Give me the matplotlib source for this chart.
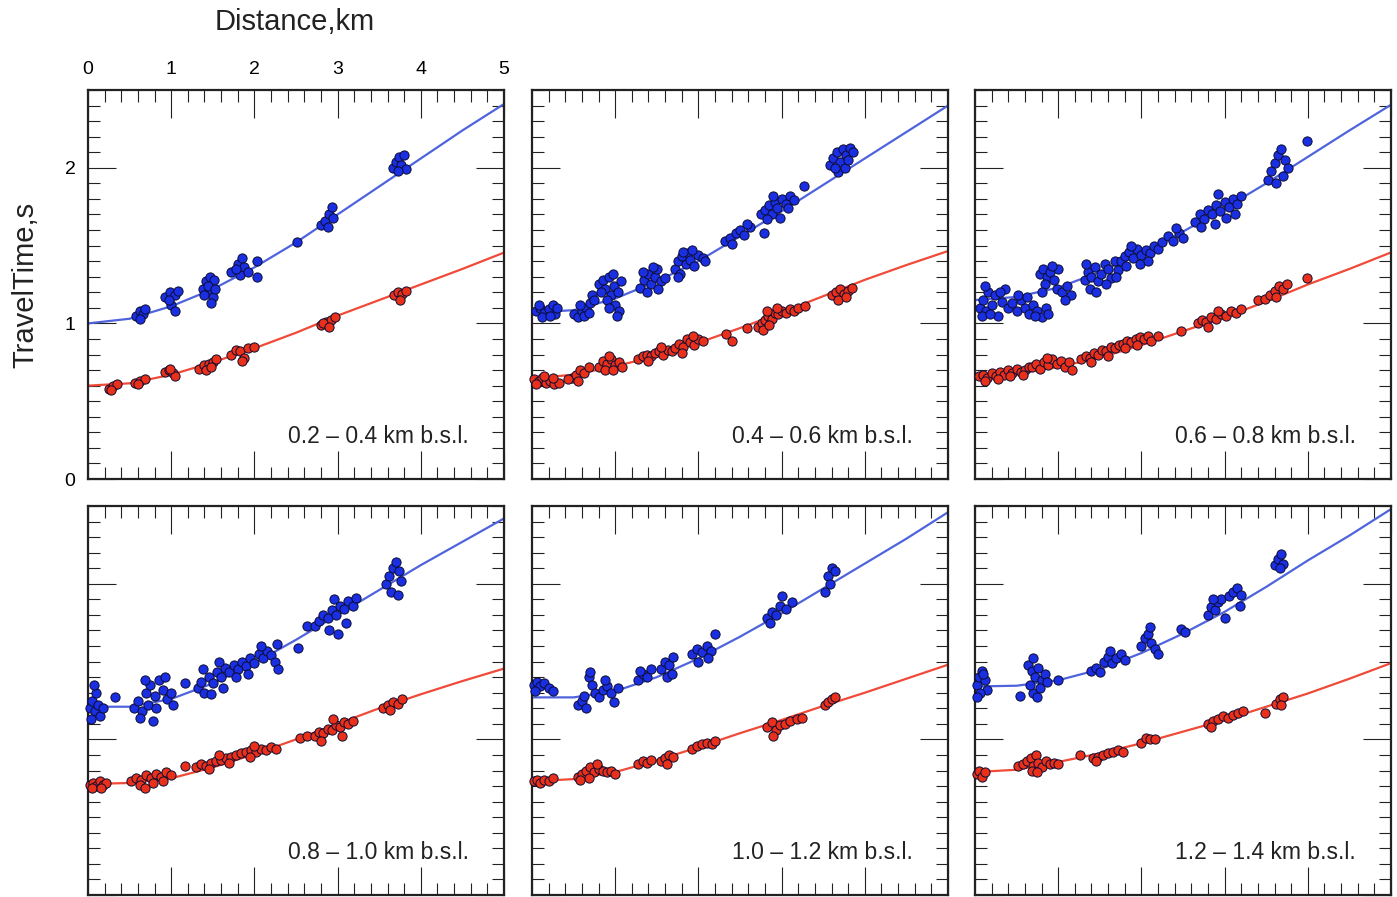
import matplotlib
matplotlib.use("Agg")
import matplotlib.pyplot as plt
from matplotlib.ticker import MultipleLocator

plt.rcParams['font.family'] = ['Liberation Sans', 'DejaVu Sans']

# ---------------------------------------------------------------- data
depth_labels = ["0.2 – 0.4 km b.s.l.", "0.4 – 0.6 km b.s.l.", "0.6 – 0.8 km b.s.l.",
                "0.8 – 1.0 km b.s.l.", "1.0 – 1.2 km b.s.l.", "1.2 – 1.4 km b.s.l."]

# model travel-time curves, sampled every 0.5 km
curve_dist = [0.0, 0.5, 1.0, 1.5, 2.0, 2.5, 3.0, 3.5, 4.0, 4.5, 5.0]

s_curve_1 = [1.00, 1.03, 1.11, 1.22, 1.36, 1.52, 1.70, 1.88, 2.06, 2.24, 2.41]
p_curve_1 = [0.60, 0.615, 0.67, 0.75, 0.84, 0.94, 1.05, 1.15, 1.25, 1.35, 1.455]
s_curve_2 = [1.07, 1.085, 1.16, 1.27, 1.40, 1.56, 1.72, 1.89, 2.06, 2.23, 2.40]
p_curve_2 = [0.647, 0.67, 0.725, 0.79, 0.875, 0.97, 1.07, 1.175, 1.28, 1.375, 1.465]
s_curve_3 = [1.15, 1.17, 1.23, 1.33, 1.45, 1.59, 1.74, 1.90, 2.07, 2.24, 2.405]
p_curve_3 = [0.66, 0.68, 0.72, 0.78, 0.86, 0.95, 1.04, 1.14, 1.25, 1.35, 1.456]
s_curve_4 = [1.21, 1.21, 1.26, 1.36, 1.49, 1.64, 1.80, 1.96, 2.12, 2.27, 2.42]
p_curve_4 = [0.713, 0.72, 0.75, 0.82, 0.905, 1.00, 1.10, 1.20, 1.29, 1.375, 1.455]
s_curve_5 = [1.27, 1.27, 1.31, 1.40, 1.52, 1.66, 1.81, 1.97, 2.13, 2.29, 2.46]
p_curve_5 = [0.73, 0.745, 0.79, 0.865, 0.95, 1.04, 1.125, 1.215, 1.30, 1.39, 1.48]
s_curve_6 = [1.34, 1.345, 1.38, 1.45, 1.555, 1.68, 1.82, 1.98, 2.15, 2.31, 2.48]
p_curve_6 = [0.79, 0.805, 0.855, 0.91, 0.975, 1.05, 1.125, 1.21, 1.295, 1.39, 1.49]

# observed picks: (distance km, travel time s)
s_picks_1 = [(0.58, 1.05), (0.62, 1.08), (0.66, 1.06), (0.62, 1.03), (0.68, 1.09),
             (0.93, 1.17), (0.98, 1.20), (1.05, 1.18), (1.08, 1.21), (1.00, 1.12), (1.04, 1.08), (0.97, 1.15),
             (1.38, 1.22), (1.42, 1.27), (1.47, 1.30), (1.52, 1.28), (1.45, 1.20), (1.50, 1.17),
             (1.44, 1.24), (1.53, 1.22), (1.48, 1.13), (1.40, 1.18),
             (1.72, 1.33), (1.80, 1.38), (1.85, 1.42), (1.88, 1.36), (1.83, 1.31), (1.92, 1.33),
             (2.03, 1.40), (2.03, 1.30), (1.78, 1.35),
             (2.51, 1.52),
             (2.80, 1.63), (2.85, 1.66), (2.90, 1.70), (2.93, 1.75), (2.88, 1.62), (2.95, 1.68),
             (3.66, 2.00), (3.70, 2.04), (3.74, 2.07), (3.80, 2.08), (3.76, 2.02), (3.82, 1.99), (3.72, 1.98)]
p_picks_1 = [(0.25, 0.58), (0.30, 0.60), (0.35, 0.61), (0.28, 0.57),
             (0.56, 0.62), (0.62, 0.63), (0.68, 0.64), (0.60, 0.61),
             (0.92, 0.69), (0.97, 0.70), (1.02, 0.68), (1.05, 0.66), (0.99, 0.71),
             (1.33, 0.71), (1.40, 0.73), (1.45, 0.74), (1.50, 0.75), (1.54, 0.77), (1.42, 0.70), (1.48, 0.72),
             (1.72, 0.80), (1.78, 0.83), (1.83, 0.82), (1.87, 0.78), (1.92, 0.84), (2.00, 0.85), (1.85, 0.76),
             (2.80, 0.99), (2.86, 1.01), (2.92, 1.02), (2.97, 1.04), (2.83, 1.00), (2.90, 0.98),
             (3.68, 1.18), (3.72, 1.20), (3.78, 1.19), (3.75, 1.15), (3.82, 1.21)]

s_picks_2 = [(0.05, 1.08), (0.10, 1.10), (0.15, 1.07), (0.20, 1.09), (0.25, 1.12), (0.28, 1.06),
             (0.12, 1.04), (0.22, 1.05), (0.30, 1.10), (0.08, 1.12),
             (0.50, 1.06), (0.55, 1.04), (0.60, 1.08), (0.65, 1.10), (0.70, 1.13), (0.72, 1.18),
             (0.62, 1.05), (0.68, 1.07), (0.58, 1.12), (0.75, 1.15),
             (0.80, 1.25), (0.85, 1.28), (0.88, 1.22), (0.92, 1.30), (0.95, 1.18), (0.98, 1.24),
             (1.00, 1.12), (1.03, 1.20), (1.05, 1.08), (0.90, 1.15), (0.83, 1.20), (1.07, 1.27),
             (0.97, 1.32), (0.93, 1.10), (1.02, 1.05),
             (1.30, 1.23), (1.35, 1.28), (1.40, 1.32), (1.43, 1.25), (1.48, 1.30), (1.50, 1.35),
             (1.55, 1.27), (1.60, 1.29), (1.38, 1.20), (1.45, 1.36), (1.52, 1.22), (1.33, 1.33),
             (1.72, 1.35), (1.75, 1.40), (1.80, 1.43), (1.85, 1.38), (1.88, 1.45), (1.90, 1.41),
             (1.95, 1.37), (2.00, 1.44), (2.05, 1.42), (1.78, 1.32), (1.92, 1.47), (1.82, 1.46),
             (2.08, 1.40), (1.76, 1.30),
             (2.32, 1.53), (2.38, 1.55), (2.45, 1.58), (2.50, 1.60), (2.55, 1.57), (2.62, 1.62),
             (2.40, 1.51), (2.58, 1.64),
             (2.79, 1.58),
             (2.75, 1.70), (2.80, 1.73), (2.85, 1.76), (2.88, 1.70), (2.92, 1.78), (2.95, 1.74),
             (3.00, 1.80), (3.05, 1.77), (3.10, 1.82), (3.15, 1.79), (2.82, 1.67), (2.98, 1.68),
             (3.08, 1.74), (2.90, 1.82),
             (3.27, 1.88),
             (3.58, 2.02), (3.62, 2.06), (3.66, 2.10), (3.70, 2.04), (3.74, 2.12), (3.78, 2.08),
             (3.82, 2.13), (3.86, 2.10), (3.68, 1.97), (3.76, 2.00), (3.80, 2.05), (3.64, 2.00)]
p_picks_2 = [(0.03, 0.64), (0.08, 0.63), (0.12, 0.65), (0.17, 0.62), (0.22, 0.63), (0.27, 0.61),
             (0.32, 0.62), (0.05, 0.61), (0.15, 0.66), (0.25, 0.65),
             (0.48, 0.65), (0.53, 0.67), (0.58, 0.70), (0.63, 0.68), (0.68, 0.72), (0.55, 0.63), (0.43, 0.64),
             (0.80, 0.72), (0.85, 0.76), (0.90, 0.74), (0.95, 0.77), (1.00, 0.73), (1.05, 0.75),
             (0.88, 0.70), (0.97, 0.70), (1.08, 0.72), (0.92, 0.79),
             (1.28, 0.77), (1.33, 0.79), (1.38, 0.80), (1.43, 0.79), (1.48, 0.81), (1.53, 0.82),
             (1.58, 0.80), (1.63, 0.83), (1.68, 0.82), (1.40, 0.76), (1.55, 0.85),
             (1.72, 0.84), (1.77, 0.87), (1.82, 0.85), (1.86, 0.90), (1.90, 0.88), (1.95, 0.86),
             (2.00, 0.90), (2.05, 0.89), (1.80, 0.81), (1.93, 0.92),
             (2.33, 0.93), (2.40, 0.89), (2.59, 0.97),
             (2.72, 0.98), (2.76, 1.00), (2.80, 1.02), (2.84, 1.05), (2.88, 1.03), (2.92, 1.07),
             (2.96, 1.06), (3.00, 1.08), (3.05, 1.07), (3.10, 1.09), (3.15, 1.08), (3.20, 1.10),
             (3.28, 1.11), (2.78, 0.96), (2.85, 0.99), (2.95, 1.10), (2.82, 1.08),
             (3.60, 1.18), (3.65, 1.20), (3.70, 1.22), (3.75, 1.19), (3.80, 1.21), (3.85, 1.23),
             (3.68, 1.15), (3.78, 1.17)]

s_picks_3 = [(0.06, 1.10), (0.10, 1.15), (0.13, 1.08), (0.16, 1.20), (0.20, 1.12), (0.24, 1.18),
             (0.28, 1.05), (0.32, 1.14), (0.36, 1.22), (0.40, 1.10), (0.08, 1.05), (0.18, 1.06),
             (0.30, 1.20), (0.12, 1.24),
             (0.45, 1.13), (0.50, 1.08), (0.55, 1.15), (0.60, 1.10), (0.65, 1.06), (0.70, 1.12),
             (0.75, 1.08), (0.80, 1.04), (0.85, 1.10), (0.52, 1.18), (0.62, 1.17), (0.72, 1.05), (0.88, 1.06),
             (0.78, 1.32), (0.82, 1.35), (0.86, 1.30), (0.90, 1.33), (0.95, 1.28), (1.00, 1.35),
             (0.84, 1.25), (0.93, 1.37), (0.98, 1.22), (0.80, 1.20),
             (1.05, 1.20), (1.10, 1.24), (1.15, 1.18), (1.08, 1.15),
             (1.32, 1.28), (1.36, 1.33), (1.40, 1.30), (1.44, 1.36), (1.48, 1.27), (1.52, 1.32),
             (1.56, 1.38), (1.60, 1.35), (1.64, 1.29), (1.68, 1.40), (1.72, 1.34), (1.38, 1.22),
             (1.46, 1.20), (1.58, 1.25), (1.70, 1.30), (1.34, 1.38),
             (1.76, 1.40), (1.80, 1.43), (1.85, 1.46), (1.90, 1.42), (1.95, 1.48), (2.00, 1.44),
             (2.05, 1.47), (2.10, 1.45), (2.15, 1.50), (2.20, 1.48), (1.82, 1.37), (1.98, 1.38),
             (2.08, 1.40), (1.88, 1.50),
             (2.25, 1.52), (2.32, 1.56), (2.38, 1.53), (2.45, 1.58), (2.50, 1.55), (2.42, 1.61),
             (2.65, 1.65), (2.70, 1.70), (2.75, 1.67), (2.80, 1.73), (2.85, 1.70), (2.90, 1.76),
             (2.95, 1.72), (3.00, 1.78), (3.05, 1.75), (3.10, 1.80), (3.15, 1.77), (3.20, 1.82),
             (2.72, 1.62), (2.88, 1.64), (3.02, 1.68), (2.92, 1.83), (3.12, 1.70),
             (3.52, 1.92), (3.56, 1.98), (3.60, 2.03), (3.64, 2.08), (3.68, 2.12), (3.72, 2.05),
             (3.76, 2.00), (3.62, 1.90), (3.70, 1.95),
             (3.99, 2.17)]
p_picks_3 = [(0.05, 0.66), (0.10, 0.67), (0.15, 0.65), (0.20, 0.68), (0.25, 0.66), (0.30, 0.69),
             (0.35, 0.67), (0.40, 0.70), (0.45, 0.68), (0.50, 0.71), (0.55, 0.69), (0.60, 0.70),
             (0.65, 0.72), (0.12, 0.63), (0.28, 0.64), (0.42, 0.66), (0.58, 0.67),
             (0.68, 0.72), (0.73, 0.74), (0.78, 0.71), (0.83, 0.75), (0.88, 0.73), (0.93, 0.77),
             (0.98, 0.74), (1.03, 0.76), (1.08, 0.72), (1.13, 0.75), (1.17, 0.70), (0.86, 0.78),
             (1.28, 0.77), (1.33, 0.79), (1.38, 0.78), (1.43, 0.81), (1.48, 0.80), (1.53, 0.83),
             (1.58, 0.82), (1.63, 0.85), (1.68, 0.84), (1.73, 0.86), (1.78, 0.87), (1.83, 0.89),
             (1.88, 0.88), (1.93, 0.90), (1.98, 0.91), (2.03, 0.90), (2.08, 0.92), (1.40, 0.75),
             (1.60, 0.79), (1.80, 0.84), (1.95, 0.86), (2.12, 0.89),
             (2.20, 0.92), (2.48, 0.95),
             (2.68, 1.00), (2.73, 1.02), (2.78, 1.01), (2.84, 1.04), (2.90, 1.03), (2.96, 1.06),
             (3.02, 1.05), (3.08, 1.08), (3.14, 1.07), (3.20, 1.09), (2.80, 0.98), (2.92, 1.08),
             (3.40, 1.15), (3.48, 1.16),
             (3.55, 1.18), (3.60, 1.21), (3.65, 1.24), (3.70, 1.22), (3.75, 1.25), (3.62, 1.17),
             (3.99, 1.29)]

s_picks_4 = [(0.02, 1.20), (0.05, 1.25), (0.08, 1.18), (0.10, 1.30), (0.12, 1.22), (0.15, 1.15),
             (0.04, 1.13), (0.18, 1.20), (0.07, 1.35),
             (0.32, 1.27),
             (0.55, 1.20), (0.60, 1.25), (0.65, 1.18), (0.70, 1.30), (0.75, 1.35), (0.80, 1.28),
             (0.85, 1.38), (0.90, 1.32), (0.95, 1.26), (1.00, 1.30), (0.62, 1.14), (0.72, 1.22),
             (0.82, 1.20), (0.92, 1.40), (0.68, 1.38), (0.78, 1.12), (1.02, 1.22),
             (1.16, 1.36),
             (1.32, 1.33), (1.36, 1.37), (1.40, 1.30), (1.45, 1.40), (1.50, 1.36), (1.55, 1.43),
             (1.60, 1.40), (1.65, 1.46), (1.70, 1.43), (1.75, 1.48), (1.80, 1.45), (1.85, 1.50),
             (1.90, 1.47), (1.95, 1.52), (2.00, 1.49), (2.05, 1.55), (2.10, 1.52), (2.15, 1.57),
             (2.20, 1.54), (2.25, 1.50), (1.38, 1.45), (1.48, 1.29), (1.62, 1.33), (1.78, 1.40),
             (1.92, 1.42), (2.08, 1.60), (2.28, 1.45), (1.58, 1.50),
             (2.27, 1.61), (2.53, 1.59), (2.63, 1.73),
             (2.73, 1.73), (2.78, 1.76), (2.83, 1.80), (2.88, 1.78), (2.93, 1.83), (2.98, 1.80),
             (3.03, 1.86), (3.08, 1.84), (3.13, 1.89), (3.18, 1.86), (3.22, 1.91), (2.90, 1.70),
             (3.00, 1.68), (2.96, 1.90), (3.10, 1.75),
             (3.58, 2.00), (3.62, 2.05), (3.66, 2.10), (3.70, 2.14), (3.74, 2.08), (3.64, 1.95),
             (3.72, 1.93), (3.76, 2.02)]
p_picks_4 = [(0.02, 0.71), (0.06, 0.72), (0.10, 0.70), (0.14, 0.73), (0.18, 0.71), (0.22, 0.72),
             (0.05, 0.69), (0.16, 0.69),
             (0.52, 0.73), (0.58, 0.75), (0.64, 0.74), (0.70, 0.77), (0.76, 0.75), (0.82, 0.78),
             (0.88, 0.76), (0.94, 0.79), (1.00, 0.77), (0.62, 0.71), (0.78, 0.72), (0.68, 0.69), (0.90, 0.73),
             (1.16, 0.83),
             (1.30, 0.82), (1.36, 0.84), (1.42, 0.83), (1.48, 0.85), (1.54, 0.86), (1.60, 0.87),
             (1.66, 0.88), (1.72, 0.89), (1.78, 0.90), (1.84, 0.91), (1.90, 0.92), (1.96, 0.93),
             (2.02, 0.92), (2.08, 0.94), (2.14, 0.93), (2.20, 0.95), (2.26, 0.94), (1.45, 0.81),
             (1.70, 0.85), (1.95, 0.89), (1.58, 0.90), (2.00, 0.96),
             (2.55, 1.01), (2.63, 1.02),
             (2.73, 1.02), (2.78, 1.05), (2.83, 1.04), (2.88, 1.07), (2.93, 1.06), (2.98, 1.09),
             (3.03, 1.08), (3.08, 1.11), (3.13, 1.10), (3.18, 1.12), (2.80, 0.99), (2.95, 1.13), (3.05, 1.02),
             (3.55, 1.20), (3.60, 1.22), (3.66, 1.24), (3.72, 1.23), (3.78, 1.26), (3.63, 1.19)]

s_picks_5 = [(0.02, 1.35), (0.06, 1.37), (0.10, 1.34), (0.15, 1.36), (0.20, 1.33), (0.25, 1.31), (0.04, 1.31),
             (0.55, 1.22), (0.60, 1.25), (0.65, 1.20), (0.68, 1.40), (0.72, 1.35), (0.76, 1.30),
             (0.80, 1.27), (0.85, 1.32), (0.90, 1.34), (0.95, 1.30), (0.98, 1.24), (1.03, 1.33),
             (0.62, 1.28), (0.88, 1.38), (0.70, 1.43),
             (1.28, 1.38), (1.33, 1.42), (1.38, 1.40), (1.43, 1.45), (1.30, 1.44),
             (1.55, 1.45), (1.60, 1.50), (1.65, 1.48), (1.70, 1.53), (1.62, 1.40), (1.68, 1.42),
             (1.92, 1.55), (1.98, 1.58), (2.04, 1.56), (2.10, 1.60), (2.15, 1.57), (2.20, 1.68),
             (2.00, 1.50), (2.12, 1.52),
             (2.83, 1.78), (2.88, 1.82), (2.93, 1.80), (2.98, 1.86), (3.05, 1.84), (3.12, 1.88),
             (3.00, 1.92), (2.86, 1.75),
             (3.52, 1.95), (3.56, 2.05), (3.60, 2.10), (3.64, 2.08), (3.58, 2.00)]
p_picks_5 = [(0.02, 0.73), (0.06, 0.74), (0.10, 0.72), (0.15, 0.74), (0.20, 0.73), (0.25, 0.75),
             (0.55, 0.76), (0.60, 0.78), (0.65, 0.80), (0.70, 0.82), (0.75, 0.79), (0.80, 0.81),
             (0.85, 0.80), (0.90, 0.79), (0.95, 0.80), (1.00, 0.78), (0.68, 0.75), (0.78, 0.84), (0.58, 0.74),
             (1.28, 0.84), (1.33, 0.86), (1.38, 0.85), (1.43, 0.87),
             (1.55, 0.86), (1.60, 0.88), (1.65, 0.90), (1.70, 0.89), (1.62, 0.84),
             (1.92, 0.94), (1.98, 0.96), (2.04, 0.97), (2.10, 0.98), (2.16, 0.97), (2.20, 0.99),
             (2.83, 1.08), (2.88, 1.11), (2.93, 1.06), (2.98, 1.09), (3.04, 1.10), (3.10, 1.12),
             (3.18, 1.13), (3.25, 1.14), (2.90, 1.02),
             (3.52, 1.22), (3.56, 1.24), (3.60, 1.26), (3.64, 1.27)]

s_picks_6 = [(0.02, 1.35), (0.05, 1.40), (0.08, 1.44), (0.12, 1.38), (0.15, 1.32), (0.06, 1.30),
             (0.10, 1.42), (0.03, 1.27),
             (0.54, 1.28),
             (0.64, 1.48), (0.68, 1.44), (0.72, 1.40), (0.76, 1.46), (0.80, 1.38), (0.84, 1.42),
             (0.70, 1.30), (0.74, 1.27), (0.78, 1.33), (0.66, 1.35), (0.86, 1.37), (0.70, 1.52),
             (1.00, 1.38),
             (1.40, 1.44), (1.45, 1.46), (1.50, 1.43), (1.55, 1.50), (1.60, 1.53), (1.65, 1.49),
             (1.70, 1.52), (1.75, 1.55), (1.80, 1.51), (1.62, 1.57),
             (2.00, 1.60), (2.04, 1.65), (2.08, 1.68), (2.12, 1.62), (2.16, 1.58), (2.20, 1.55), (2.10, 1.72),
             (2.47, 1.71), (2.52, 1.69),
             (2.80, 1.80), (2.84, 1.85), (2.88, 1.83), (2.92, 1.88), (2.96, 1.90), (3.05, 1.92),
             (3.10, 1.95), (3.15, 1.97), (3.20, 1.93), (3.00, 1.78), (3.18, 1.86), (2.86, 1.90),
             (3.60, 2.12), (3.64, 2.16), (3.68, 2.19), (3.70, 2.13), (3.66, 2.10)]
p_picks_6 = [(0.02, 0.78), (0.05, 0.80), (0.09, 0.76), (0.12, 0.79),
             (0.52, 0.83), (0.58, 0.84), (0.63, 0.86), (0.67, 0.88), (0.70, 0.83), (0.73, 0.90),
             (0.76, 0.85), (0.80, 0.82), (0.85, 0.86), (0.90, 0.84), (0.95, 0.85), (1.00, 0.84),
             (0.68, 0.80), (0.75, 0.79),
             (1.26, 0.90),
             (1.42, 0.88), (1.48, 0.89), (1.54, 0.90), (1.60, 0.91), (1.66, 0.92), (1.72, 0.93),
             (1.78, 0.92), (1.46, 0.86),
             (2.00, 0.98), (2.05, 1.01), (2.10, 1.00), (2.16, 1.00),
             (2.80, 1.10), (2.86, 1.12), (2.92, 1.13), (2.98, 1.15), (3.04, 1.14), (3.10, 1.16),
             (3.16, 1.17), (3.22, 1.18), (2.84, 1.08),
             (3.49, 1.17),
             (3.62, 1.23), (3.66, 1.26), (3.70, 1.27), (3.68, 1.22)]

s_curves = [s_curve_1, s_curve_2, s_curve_3, s_curve_4, s_curve_5, s_curve_6]
p_curves = [p_curve_1, p_curve_2, p_curve_3, p_curve_4, p_curve_5, p_curve_6]
s_picks = [s_picks_1, s_picks_2, s_picks_3, s_picks_4, s_picks_5, s_picks_6]
p_picks = [p_picks_1, p_picks_2, p_picks_3, p_picks_4, p_picks_5, p_picks_6]

# ---------------------------------------------------------------- styling
S_LINE = '#4f64dc'
P_LINE = '#f04a38'
S_FILL = '#1a2ee2'
P_FILL = '#e8301a'
EDGE = '#0c0c30'

W, H = 1397, 897
fig = plt.figure(figsize=(W / 100, H / 100), dpi=100)

col_left = [88, 532, 975]
row_top = [90, 506]
ax_w, ax_h = 416, 389

for i in range(6):
    r, c = divmod(i, 3)
    left = col_left[c] / W
    bottom = 1 - (row_top[r] + ax_h) / H
    ax = fig.add_axes([left, bottom, ax_w / W, ax_h / H])

    ax.plot(curve_dist, s_curves[i], color=S_LINE, lw=1.6, zorder=2)
    ax.plot(curve_dist, p_curves[i], color=P_LINE, lw=1.6, zorder=2)

    sx, st = zip(*s_picks[i])
    px, pt = zip(*p_picks[i])
    ax.scatter(sx, st, s=44, c=S_FILL, edgecolors=EDGE, linewidths=0.7, zorder=3, clip_on=False)
    ax.scatter(px, pt, s=44, c=P_FILL, edgecolors=EDGE, linewidths=0.7, zorder=3, clip_on=False)

    ax.set_xlim(0, 5)
    ax.set_ylim(0, 2.5)
    ax.xaxis.set_major_locator(MultipleLocator(1))
    ax.xaxis.set_minor_locator(MultipleLocator(0.2))
    ax.yaxis.set_major_locator(MultipleLocator(1))
    ax.yaxis.set_minor_locator(MultipleLocator(0.1))

    first = (i == 0)
    ax.tick_params(which='both', direction='in', top=True, bottom=True, left=True, right=True,
                   labelbottom=False, labeltop=first, labelleft=first, labelright=False,
                   width=0.8, color='#222222')
    ax.tick_params(which='major', length=20, labelsize=14, pad=9)
    ax.tick_params(which='minor', length=8.5)
    for sp in ax.spines.values():
        sp.set_linewidth(1.6)
        sp.set_color('#222222')

    ax.text(0.915, 0.093, depth_labels[i], transform=ax.transAxes, ha='right',
            va='baseline', fontsize=16.5, color='#222222')

fig.text(295 / W, 1 - 22 / H, 'Distance,km', ha='center', va='center', fontsize=21, color='#222222')
fig.text(25 / W, 1 - 285 / H, 'TravelTime,s', ha='center', va='center', rotation=90,
         fontsize=21, color='#222222')

fig.savefig('out.png', dpi=100, facecolor='white')
